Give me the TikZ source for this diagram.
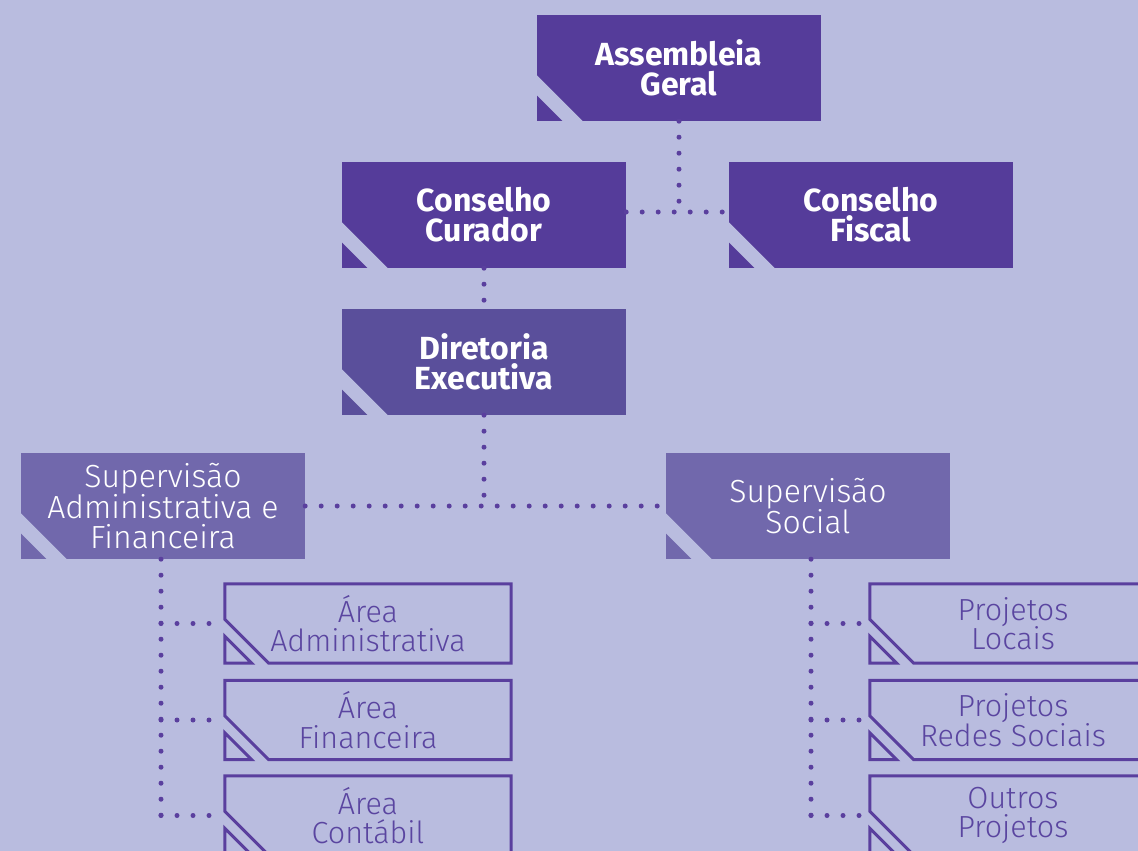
\documentclass[tikz,border=0pt]{standalone}
\usepackage{fontspec}
\setmainfont{Fira Sans}
\newfontfamily\lightfont{Fira Sans Light}
\usetikzlibrary{calc}
\definecolor{bg}{HTML}{B9BCDF}
\definecolor{darkp}{HTML}{553C9A}
\definecolor{dirp}{HTML}{5A4F9B}
\definecolor{supp}{HTML}{7168AC}
\definecolor{lnc}{HTML}{5A3F9E}
\definecolor{txtp}{HTML}{5A45A0}
\tikzset{
  solidbox/.style={rectangle, minimum width=284pt, minimum height=106pt, inner sep=0pt, align=center, text=white},
  boldtext/.style={font=\fontsize{32}{30}\selectfont\bfseries},
  lighttext/.style={font=\lightfont\fontsize{32}{30}\selectfont},
  outbox/.style={rectangle, minimum width=286pt, minimum height=79pt, inner sep=0pt, align=center, text=txtp, font=\lightfont\fontsize{30.5}{29.5}\selectfont},
  dotline/.style={draw=lnc, line width=5pt, line cap=round, dash pattern=on 0pt off 16pt},
  outline/.style={draw=lnc, line width=3pt, line join=miter},
}
\newcommand\stripe[1]{\fill[bg] ($(#1.south west)+(-1,-47)$) -- ($(#1.south west)+(47,1)$) -- ($(#1.south west)+(27,1)$) -- ($(#1.south west)+(-1,-27)$) -- cycle;}
\newcommand\outshape[1]{%
  \draw[outline] (#1.north west) -- (#1.north east) -- (#1.south east) -- ($(#1.south west)+(44,0)$) -- ($(#1.south west)+(0,-44)$) -- cycle;
  \draw[outline] ($(#1.south west)+(0,-27)$) -- (#1.south west) -- ($(#1.south west)+(27,0)$) -- cycle;}
\begin{document}
\begin{tikzpicture}[x=1pt,y=-1pt]
\useasboundingbox (0,0) rectangle (1138,851);
\clip (0,0) rectangle (1138,851);
\fill[bg] (0,0) rectangle (1138,851);

\node[solidbox, boldtext, fill=darkp] (ag) at (679,68) {Assembleia\\Geral};
\node[solidbox, boldtext, fill=darkp] (cc) at (484,215) {Conselho\\Curador};
\node[solidbox, boldtext, fill=darkp] (cf) at (871,215) {Conselho\\Fiscal};
\node[solidbox, boldtext, fill=dirp] (de) at (484,362) {Diretoria\\Executiva};
\node[solidbox, lighttext, fill=supp] (sa) at (163,506) {Supervisão\\Administrativa e\\Financeira};
\node[solidbox, lighttext, fill=supp] (ss) at (808,506) {Supervisão\\Social};
\stripe{ag}\stripe{cc}\stripe{cf}\stripe{de}\stripe{sa}\stripe{ss}

\node[outbox] (a1) at (368,623.5) {Área\\Administrativa};
\node[outbox] (a2) at (368,720) {Área\\Financeira};
\node[outbox] (a3) at (368,815.5) {Área\\Contábil};
\node[outbox] (p1) at (1013,623.5) {Projetos\\Locais};
\node[outbox] (p2) at (1013,720) {Projetos\\Redes Sociais};
\node[outbox] (p3) at (1013,815.5) {Outros\\Projetos};
\outshape{a1}\outshape{a2}\outshape{a3}\outshape{p1}\outshape{p2}\outshape{p3}

\draw[dotline] (ag.south) -- ($(ag.south |- cc.east)+(0,-3)$);
\draw[dotline] ($(cc.east)+(0,-3)$) -- ($(cf.west)+(0,-3)$);
\draw[dotline] (cc.south) -- (de.north);
\draw[dotline] (de.south) -- (de.south |- sa.east);
\draw[dotline] (sa.east) -- (ss.west);
\draw[dotline] ($(sa.south)+(-2,0)$) -- ($(sa.south |- a3.west)+(-2,0)$);
\draw[dotline] ($(sa.south |- a1.west)+(-2,0)$) -- (a1.west);
\draw[dotline] ($(sa.south |- a2.west)+(-2,0)$) -- (a2.west);
\draw[dotline] ($(sa.south |- a3.west)+(-2,0)$) -- (a3.west);
\draw[dotline] ($(ss.south)+(3,0)$) -- ($(ss.south |- p3.west)+(3,0)$);
\draw[dotline] ($(ss.south |- p1.west)+(3,0)$) -- (p1.west);
\draw[dotline] ($(ss.south |- p2.west)+(3,0)$) -- (p2.west);
\draw[dotline] ($(ss.south |- p3.west)+(3,0)$) -- (p3.west);
\end{tikzpicture}
\end{document}
